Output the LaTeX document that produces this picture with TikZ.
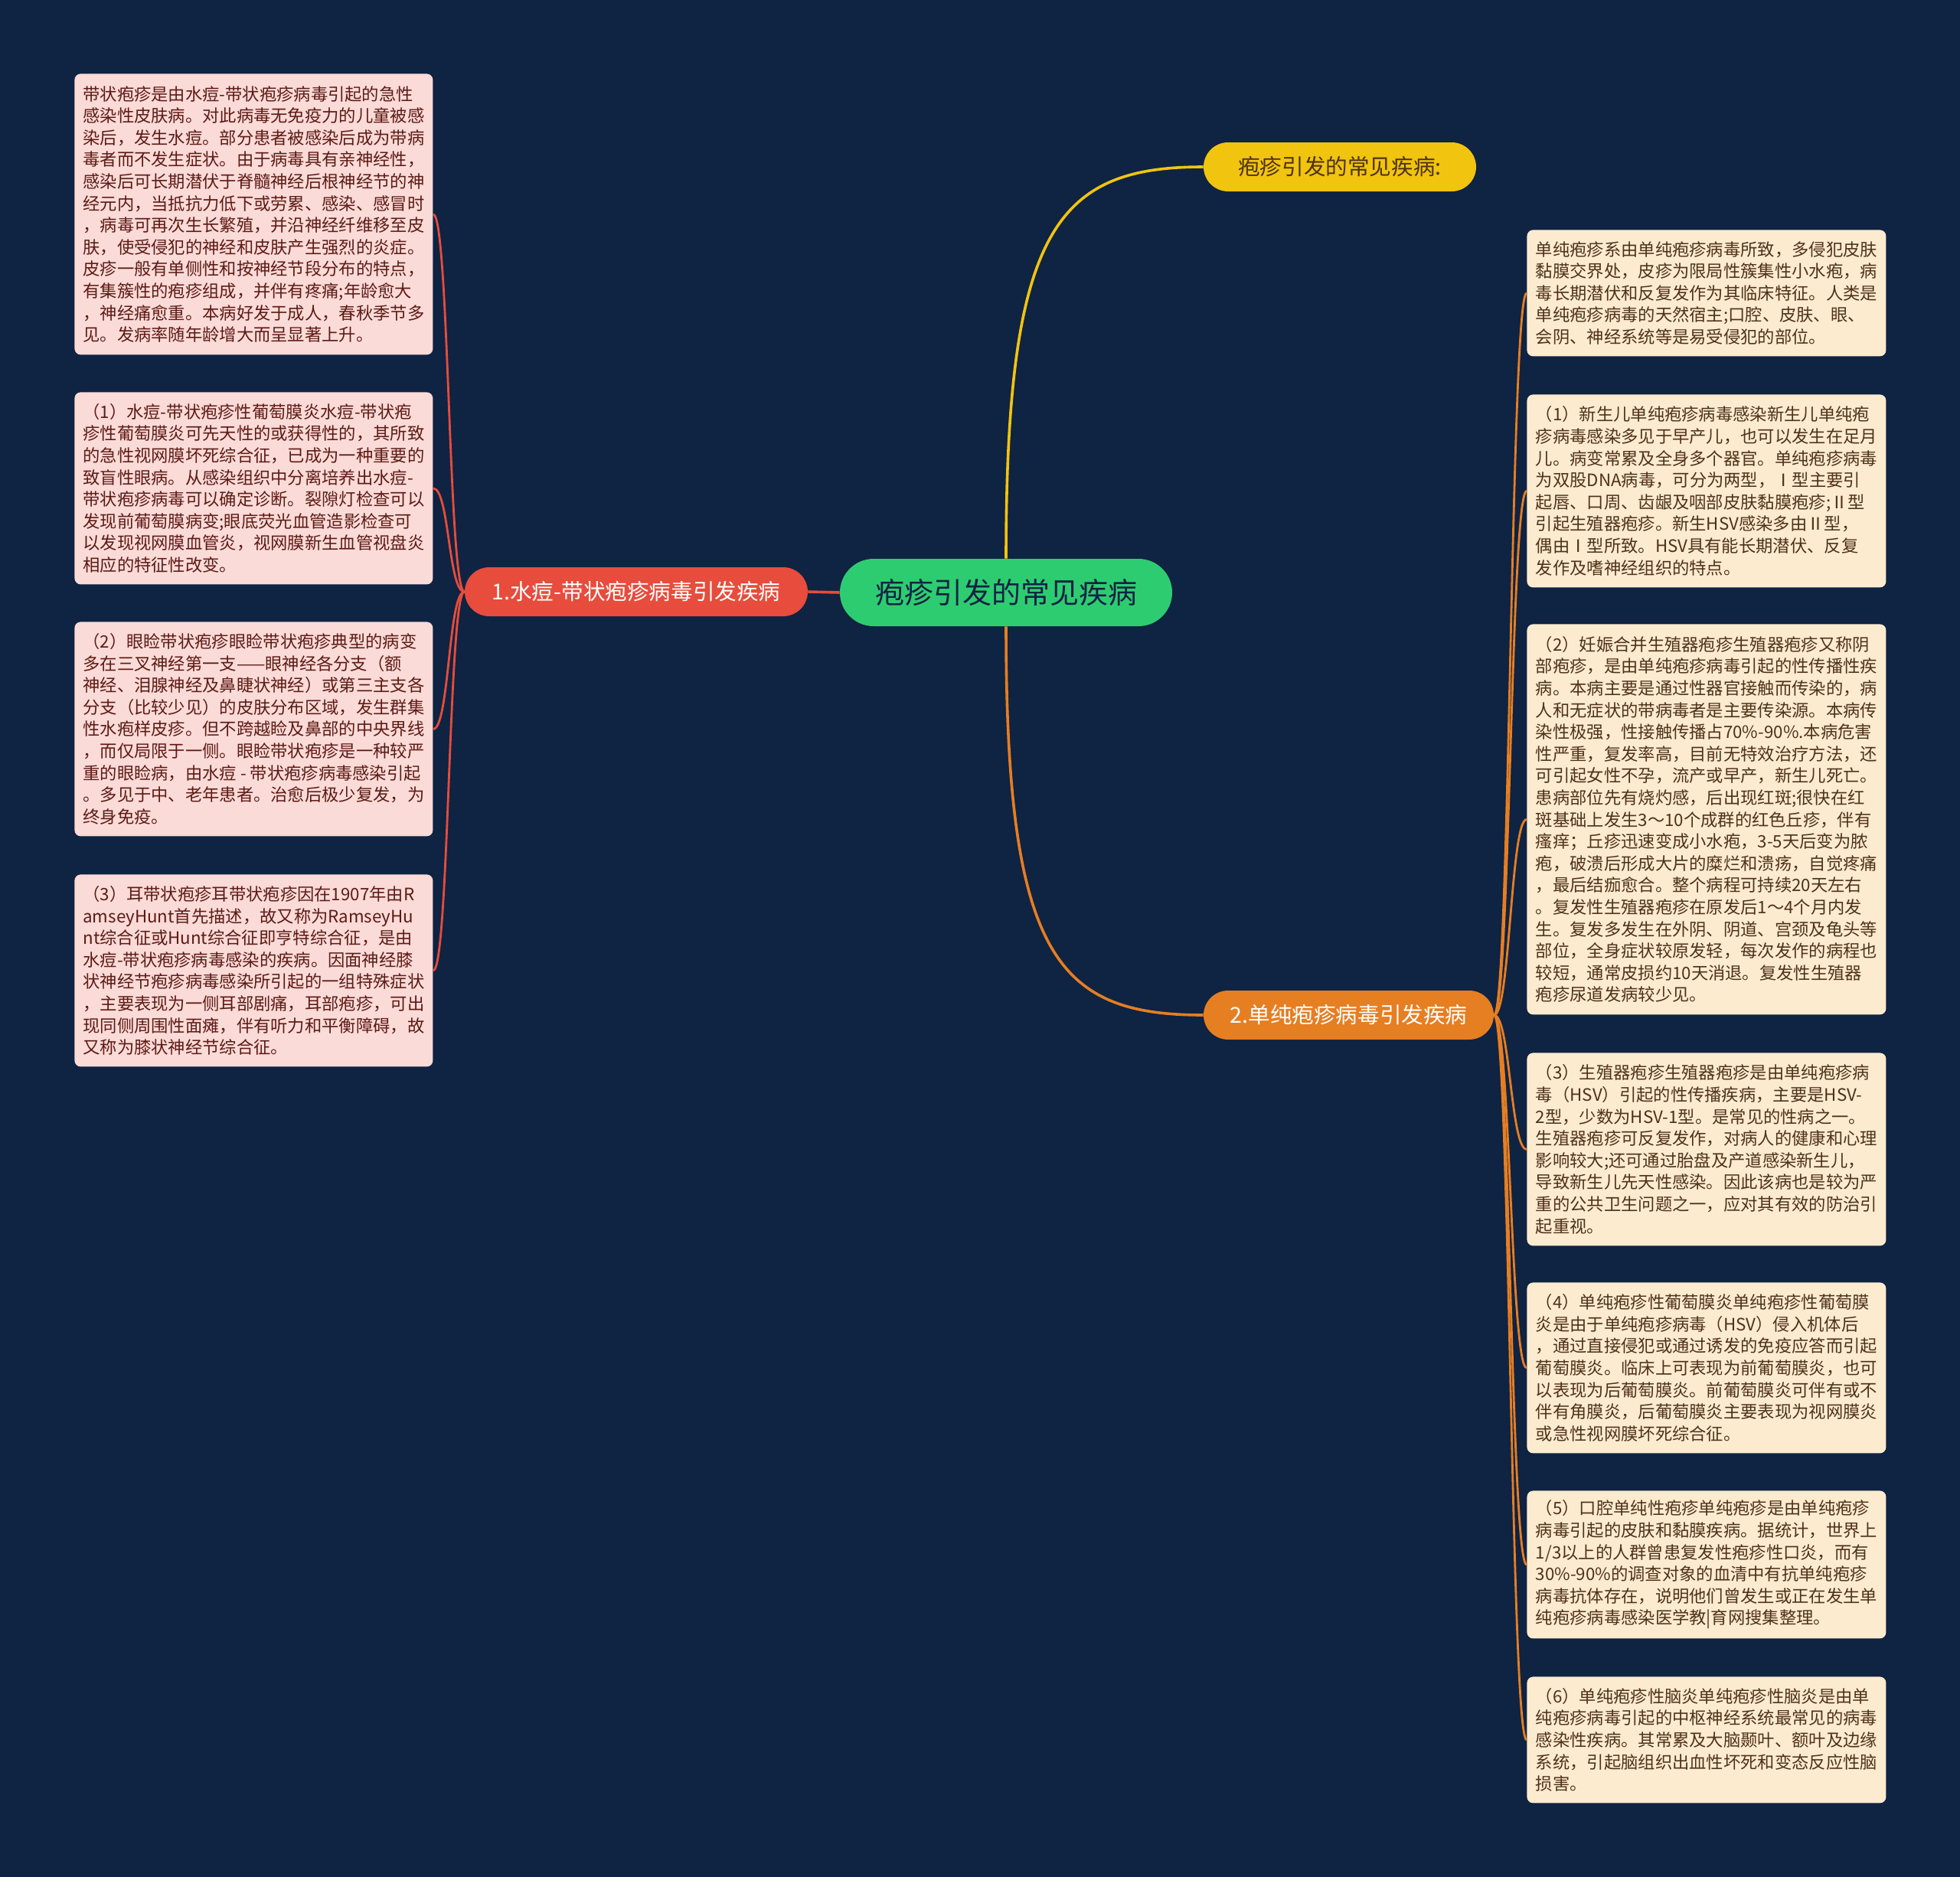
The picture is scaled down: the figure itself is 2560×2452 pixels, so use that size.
\documentclass[tikz,border=0pt]{standalone}
\usepackage{fontspec}
\setmainfont{Noto Sans CJK SC}
\definecolor{bgc}{HTML}{0F2342}
\definecolor{pinkbox}{HTML}{FADBD8}
\definecolor{peachbox}{HTML}{FDEBD0}
\definecolor{ltext}{HTML}{5E1A14}
\definecolor{rtext}{HTML}{4E3216}
\definecolor{redc}{HTML}{E74C3C}
\definecolor{orangec}{HTML}{E67E22}
\definecolor{yellowc}{HTML}{F1C40F}
\definecolor{greenc}{HTML}{2ECC71}
\tikzset{
  boxtext/.style={rectangle, rounded corners=4pt, inner sep=0pt, align=left, anchor=north west,
    font=\fontsize{11.15}{14.3}\selectfont},
  lbox/.style={boxtext, fill=pinkbox, text=ltext, minimum width=234pt},
  rbox/.style={boxtext, fill=peachbox, text=rtext, minimum width=234.5pt},
  pill/.style={rectangle, rounded corners=16pt, minimum height=32pt, inner sep=0pt,
    font=\fontsize{14.3}{17}\selectfont},
  redline/.style={draw=redc, line width=1.4pt},
  orline/.style={draw=orangec, line width=1.4pt},
}
\begin{document}
\begin{tikzpicture}[x=0.5pt,y=-0.5pt]
\fill[bgc] (0,0) rectangle (2560,2452);
\useasboundingbox (0,0) rectangle (2560,2452);

% main nodes
\node[pill, fill=greenc, text=bgc, rounded corners=22pt, minimum width=217pt, minimum height=44pt,
  font=\fontsize{19}{22}\selectfont] (C) at (1314,774) {疱疹引发的常见疾病};
\node[pill, fill=redc, text=white, minimum width=224pt] (B1) at (831,773) {1.水痘-带状疱疹病毒引发疾病};
\node[pill, fill=yellowc, text=rtext, minimum width=178pt] (Y) at (1750,218) {疱疹引发的常见疾病:};
\node[pill, fill=orangec, text=white, minimum width=189.5pt] (O) at (1761.5,1326) {2.单纯疱疹病毒引发疾病};

% left boxes
\node[lbox, minimum height=183.5pt] (L1) at (97,96) {带状疱疹是由水痘-带状疱疹病毒引起的急性\\感染性皮肤病。对此病毒无免疫力的儿童被感\\染后，发生水痘。部分患者被感染后成为带病\\毒者而不发生症状。由于病毒具有亲神经性，\\感染后可长期潜伏于脊髓神经后根神经节的神\\经元内，当抵抗力低下或劳累、感染、感冒时\\，病毒可再次生长繁殖，并沿神经纤维移至皮\\肤，使受侵犯的神经和皮肤产生强烈的炎症。\\皮疹一般有单侧性和按神经节段分布的特点，\\有集簇性的疱疹组成，并伴有疼痛;年龄愈大\\，神经痛愈重。本病好发于成人，春秋季节多\\见。发病率随年龄增大而呈显著上升。};
\node[lbox, minimum height=125.5pt] (L2) at (97,512) {（1）水痘-带状疱疹性葡萄膜炎水痘-带状疱\\疹性葡萄膜炎可先天性的或获得性的，其所致\\的急性视网膜坏死综合征，已成为一种重要的\\致盲性眼病。从感染组织中分离培养出水痘-\\带状疱疹病毒可以确定诊断。裂隙灯检查可以\\发现前葡萄膜病变;眼底荧光血管造影检查可\\以发现视网膜血管炎，视网膜新生血管视盘炎\\相应的特征性改变。};
\node[lbox, minimum height=140pt] (L3) at (97,812) {（2）眼睑带状疱疹眼睑带状疱疹典型的病变\\多在三叉神经第一支——眼神经各分支（额\\神经、泪腺神经及鼻睫状神经）或第三主支各\\分支（比较少见）的皮肤分布区域，发生群集\\性水疱样皮疹。但不跨越睑及鼻部的中央界线\\，而仅局限于一侧。眼睑带状疱疹是一种较严\\重的眼睑病，由水痘 - 带状疱疹病毒感染引起\\。多见于中、老年患者。治愈后极少复发，为\\终身免疫。};
\node[lbox, minimum height=125.5pt] (L4) at (97,1142) {（3）耳带状疱疹耳带状疱疹因在1907年由R\\amseyHunt首先描述，故又称为RamseyHu\\nt综合征或Hunt综合征即亨特综合征，是由\\水痘-带状疱疹病毒感染的疾病。因面神经膝\\状神经节疱疹病毒感染所引起的一组特殊症状\\，主要表现为一侧耳部剧痛，耳部疱疹，可出\\现同侧周围性面瘫，伴有听力和平衡障碍，故\\又称为膝状神经节综合征。};

% right boxes
\node[rbox, minimum height=82.5pt] (R1) at (1994,300) {单纯疱疹系由单纯疱疹病毒所致，多侵犯皮肤\\黏膜交界处，皮疹为限局性簇集性小水疱，病\\毒长期潜伏和反复发作为其临床特征。人类是\\单纯疱疹病毒的天然宿主;口腔、皮肤、眼、\\会阴、神经系统等是易受侵犯的部位。};
\node[rbox, minimum height=126pt] (R2) at (1994,515) {（1）新生儿单纯疱疹病毒感染新生儿单纯疱\\疹病毒感染多见于早产儿，也可以发生在足月\\儿。病变常累及全身多个器官。单纯疱疹病毒\\为双股DNA病毒，可分为两型，Ⅰ型主要引\\起唇、口周、齿龈及咽部皮肤黏膜疱疹;Ⅱ型\\引起生殖器疱疹。新生HSV感染多由Ⅱ型，\\偶由Ⅰ型所致。HSV具有能长期潜伏、反复\\发作及嗜神经组织的特点。};
\node[rbox, minimum height=255pt] (R3) at (1994,815) {（2）妊娠合并生殖器疱疹生殖器疱疹又称阴\\部疱疹，是由单纯疱疹病毒引起的性传播性疾\\病。本病主要是通过性器官接触而传染的，病\\人和无症状的带病毒者是主要传染源。本病传\\染性极强，性接触传播占70\%-90\%.本病危害\\性严重，复发率高，目前无特效治疗方法，还\\可引起女性不孕，流产或早产，新生儿死亡。\\患病部位先有烧灼感，后出现红斑;很快在红\\斑基础上发生3～10个成群的红色丘疹，伴有\\瘙痒；丘疹迅速变成小水疱，3-5天后变为脓\\疱，破溃后形成大片的糜烂和溃疡，自觉疼痛\\，最后结痂愈合。整个病程可持续20天左右\\。复发性生殖器疱疹在原发后1～4个月内发\\生。复发多发生在外阴、阴道、宫颈及龟头等\\部位，全身症状较原发轻，每次发作的病程也\\较短，通常皮损约10天消退。复发性生殖器\\疱疹尿道发病较少见。};
\node[rbox, minimum height=126pt] (R4) at (1994,1375) {（3）生殖器疱疹生殖器疱疹是由单纯疱疹病\\毒（HSV）引起的性传播疾病，主要是HSV-\\2型，少数为HSV-1型。是常见的性病之一。\\生殖器疱疹可反复发作，对病人的健康和心理\\影响较大;还可通过胎盘及产道感染新生儿，\\导致新生儿先天性感染。因此该病也是较为严\\重的公共卫生问题之一，应对其有效的防治引\\起重视。};
\node[rbox, minimum height=111.5pt] (R5) at (1994,1675) {（4）单纯疱疹性葡萄膜炎单纯疱疹性葡萄膜\\炎是由于单纯疱疹病毒（HSV）侵入机体后\\，通过直接侵犯或通过诱发的免疫应答而引起\\葡萄膜炎。临床上可表现为前葡萄膜炎，也可\\以表现为后葡萄膜炎。前葡萄膜炎可伴有或不\\伴有角膜炎，后葡萄膜炎主要表现为视网膜炎\\或急性视网膜坏死综合征。};
\node[rbox, minimum height=96.5pt] (R6) at (1994,1947) {（5）口腔单纯性疱疹单纯疱疹是由单纯疱疹\\病毒引起的皮肤和黏膜疾病。据统计，世界上\\1/3以上的人群曾患复发性疱疹性口炎，而有\\30\%-90\%的调查对象的血清中有抗单纯疱疹\\病毒抗体存在，说明他们曾发生或正在发生单\\纯疱疹病毒感染医学教|育网搜集整理。};
\node[rbox, minimum height=82.5pt] (R7) at (1994,2190) {（6）单纯疱疹性脑炎单纯疱疹性脑炎是由单\\纯疱疹病毒引起的中枢神经系统最常见的病毒\\感染性疾病。其常累及大脑颞叶、额叶及边缘\\系统，引起脑组织出血性坏死和变态反应性脑\\损害。};

% connectors
\draw[redc, line width=1.8pt] (C.west) -- (B1.east);
\draw[yellowc, line width=1.8pt] (C.north) .. controls ([yshift=215pt]C.north) and ([xshift=-96pt]Y.west) .. (Y.west);
\draw[orangec, line width=1.8pt] (C.south) .. controls ([yshift=-215pt]C.south) and ([xshift=-96pt]O.west) .. (O.west);
\foreach \n in {L1,L2,L3,L4}{
  \draw[redline] (B1.west) .. controls ([xshift=-10.5pt]B1.west) and ([xshift=10.5pt]\n.east) .. (\n.east);
}
\foreach \n in {R1,R2,R3,R4,R5,R6,R7}{
  \draw[orline] (O.east) .. controls ([xshift=10.5pt]O.east) and ([xshift=-10.5pt]\n.west) .. (\n.west);
}
\end{tikzpicture}
\end{document}
